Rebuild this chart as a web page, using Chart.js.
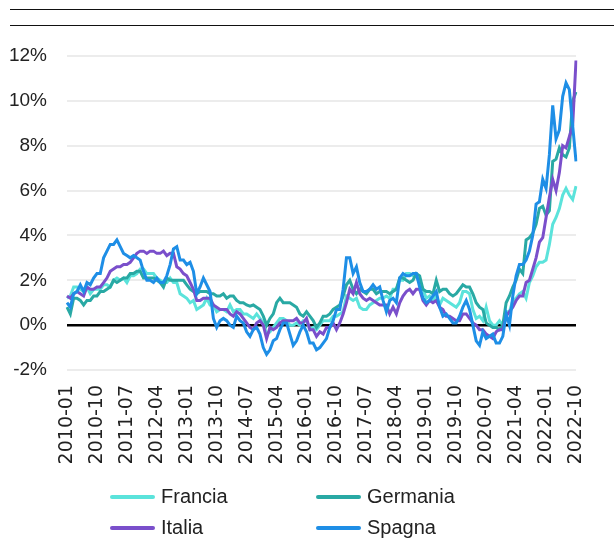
<!DOCTYPE html>
<html>
<head>
<meta charset="utf-8">
<script src="https://cdn.jsdelivr.net/npm/chart.js@4.4.0/dist/chart.umd.min.js"></script>
<style>
  html, body { margin: 0; padding: 0; background: #fff; }
  #wrap { position: relative; width: 614px; height: 538px; overflow: hidden; }
  #rules { position: absolute; left: 10px; right: 0; top: 9px; height: 15px;
           border-top: 1.5px solid #111; border-bottom: 1.5px solid #111; }
  #legend { position: absolute; left: 0; top: 484px; width: 614px;
            font-family: "Liberation Sans", Arial, sans-serif; font-size: 20px; color: #222; }
  .item { position: absolute; height: 24px; line-height: 24px; white-space: nowrap; }
  .swatch { display: inline-block; width: 45px; height: 4px; border-radius: 2px;
            vertical-align: middle; margin-right: 6px; position: relative; top: -1px; }
</style>
</head>
<body>
<div id="wrap">
  <div id="rules"></div>
  <canvas id="c" width="614" height="538"></canvas>
  <div id="legend"></div>
</div>
<script>
// monthly, 2010-01 .. 2022-10
const startYear = 2010, nMonths = 154;
const months = [];
for (let i = 0; i < nMonths; i++) {
  const y = startYear + Math.floor(i / 12), m = (i % 12) + 1;
  months.push(y + '-' + String(m).padStart(2, '0'));
}

const francia = [
  1.2, 1.3, 1.7, 1.7, 1.6, 1.5, 1.7, 1.4, 1.6, 1.6, 1.6, 1.8,
  1.8, 1.7, 2.0, 2.1, 2.0, 2.1, 1.9, 2.2, 2.2, 2.3, 2.5, 2.5,
  2.3, 2.3, 2.3, 2.1, 2.0, 1.9, 1.9, 2.1, 1.9, 1.9, 1.4, 1.3,
  1.2, 1.0, 1.1, 0.7, 0.8, 0.9, 1.2, 0.9, 0.9, 0.6, 0.7, 0.7,
  0.6, 0.9, 0.6, 0.7, 0.7, 0.5, 0.5, 0.4, 0.3, 0.5, 0.3, 0.1,
  -0.4, -0.3, -0.1, 0.1, 0.3, 0.3, 0.2, 0.0, 0.0, 0.1, 0.0, 0.2,
  0.2, -0.2, -0.1, -0.2, 0.0, 0.2, 0.2, 0.2, 0.4, 0.4, 0.5, 0.6,
  1.3, 1.2, 1.1, 1.2, 0.8, 0.7, 0.7, 0.9, 1.0, 1.1, 1.2, 1.2,
  1.3, 1.2, 1.6, 1.6, 2.0, 2.0, 2.3, 2.3, 2.2, 2.2, 1.9, 1.6,
  1.2, 1.3, 1.1, 1.3, 0.9, 1.2, 1.1, 1.0, 0.9, 0.8, 1.0, 1.5,
  1.5, 1.4, 0.7, 0.3, 0.4, 0.2, 0.8, 0.2, 0.0, 0.0, 0.2, 0.0,
  0.6, 0.6, 1.1, 1.2, 1.4, 1.5, 1.2, 1.9, 2.2, 2.6, 2.8, 2.8,
  2.9, 3.6, 4.5, 4.8, 5.2, 5.8, 6.1, 5.8, 5.6, 6.2
];
const germania = [
  0.8, 0.5, 1.2, 1.2, 1.1, 0.9, 1.1, 1.1, 1.3, 1.3, 1.5, 1.5,
  1.6, 1.7, 2.0, 1.9, 2.0, 2.1, 2.1, 2.3, 2.3, 2.4, 2.4, 2.1,
  2.1, 2.1, 2.1, 2.0, 1.9, 1.7, 2.1, 2.0, 2.0, 2.0, 2.0, 2.0,
  1.8, 1.6, 1.5, 1.4, 1.5, 1.5, 1.5, 1.4, 1.4, 1.3, 1.3, 1.4,
  1.2, 1.3, 1.3, 1.1, 1.0, 1.0, 0.9, 0.85, 0.9, 0.8, 0.7, 0.4,
  0.0, 0.3, 0.5, 1.0, 1.2, 1.0, 1.0, 1.0, 0.9, 0.8, 0.5, 0.4,
  0.6, 0.4, 0.2, -0.1, 0.1, 0.4, 0.4, 0.5, 0.7, 0.8, 0.9, 1.3,
  1.8, 2.0, 1.6, 1.4, 1.6, 1.5, 1.4, 1.6, 1.6, 1.4, 1.5, 1.5,
  1.5, 1.4, 1.5, 1.6, 2.1, 2.1, 2.0, 1.9, 2.0, 2.3, 2.2, 1.6,
  1.5, 1.5, 1.4, 2.0, 1.5, 1.6, 1.6, 1.4, 1.3, 1.4, 1.6, 1.8,
  1.7, 1.7, 1.4, 1.0, 0.8, 0.7, 0.1, 0.0, -0.1, -0.1, -0.2, 0.0,
  1.0, 1.3, 1.7, 2.0, 2.5, 2.3, 3.8, 3.9, 4.1, 4.5, 5.2, 5.3,
  4.9, 5.1, 7.3, 7.4, 7.9, 7.6, 7.5, 7.9, 10.0, 10.4
];
const italia = [
  1.3, 1.2, 1.4, 1.5, 1.4, 1.3, 1.7, 1.6, 1.6, 1.7, 1.7, 1.9,
  2.1, 2.4, 2.5, 2.6, 2.6, 2.7, 2.7, 2.8, 3.0, 3.2, 3.3, 3.3,
  3.2, 3.3, 3.3, 3.2, 3.2, 3.3, 3.1, 3.2, 3.2, 2.6, 2.5, 2.3,
  2.2, 1.9, 1.6, 1.1, 1.1, 1.2, 1.2, 1.2, 0.9, 0.8, 0.7, 0.7,
  0.7, 0.5, 0.4, 0.6, 0.5, 0.3, 0.1, -0.1, -0.2, 0.1, 0.2, 0.0,
  -0.6, -0.1, -0.2, -0.1, 0.1, 0.2, 0.2, 0.2, 0.2, 0.3, 0.1, 0.1,
  0.3, -0.2, -0.2, -0.5, -0.3, -0.4, -0.1, -0.1, 0.1, -0.2, 0.1, 0.5,
  1.0, 1.6, 1.4, 1.9, 1.4, 1.2, 1.1, 1.2, 1.1, 1.0, 0.9, 0.9,
  0.9, 0.5, 0.8, 0.5, 1.0, 1.3, 1.5, 1.6, 1.4, 1.6, 1.6, 1.1,
  0.9, 1.1, 1.0, 1.1, 0.8, 0.7, 0.4, 0.4, 0.3, 0.2, 0.2, 0.5,
  0.5, 0.3, 0.1, 0.0, -0.2, -0.2, -0.4, -0.5, -0.6, -0.3, -0.2, -0.2,
  0.4, 0.6, 0.8, 1.1, 1.3, 1.3, 1.9, 2.0, 2.5, 3.0, 3.7, 3.9,
  4.8, 5.7, 6.5, 6.0, 6.8, 8.0, 7.9, 8.4, 8.9, 11.8
];
const spagna = [
  1.0, 0.8, 1.4, 1.5, 1.8, 1.5, 1.9, 1.8, 2.1, 2.3, 2.3, 3.0,
  3.3, 3.6, 3.6, 3.8, 3.5, 3.2, 3.1, 3.0, 3.1, 3.0, 2.9, 2.4,
  2.0, 2.0, 1.9, 2.1, 1.9, 1.9, 2.2, 2.7, 3.4, 3.5, 2.9, 2.9,
  2.7, 2.8, 2.4, 1.4, 1.7, 2.1, 1.8, 1.5, 0.3, -0.1, 0.2, 0.3,
  0.2, 0.0, -0.1, 0.4, 0.2, 0.1, -0.3, -0.5, -0.2, -0.1, -0.4, -1.0,
  -1.3, -1.1, -0.7, -0.6, -0.2, 0.1, 0.1, -0.4, -0.9, -0.7, -0.3, 0.0,
  -0.3, -0.8, -0.8, -1.1, -1.0, -0.8, -0.6, -0.1, 0.2, 0.7, 0.7, 1.6,
  3.0, 3.0, 2.3, 2.6, 1.9, 1.5, 1.5, 1.6, 1.8, 1.6, 1.7, 1.1,
  0.6, 1.1, 1.2, 1.0, 2.1, 2.3, 2.2, 2.2, 2.3, 2.3, 1.7, 1.2,
  1.0, 1.1, 1.3, 1.5, 0.8, 0.4, 0.5, 0.3, 0.1, 0.1, 0.4, 0.8,
  1.1, 0.7, 0.0, -0.7, -0.9, -0.3, -0.6, -0.5, -0.4, -0.8, -0.8, -0.5,
  0.5, 0.0, 1.3, 2.2, 2.7, 2.7, 2.9, 3.3, 4.0, 5.4, 5.5, 6.5,
  6.1, 7.6, 9.8, 8.3, 8.7, 10.2, 10.8, 10.5, 8.9, 7.3
];

const seriesNames = ['Francia', 'Germania', 'Italia', 'Spagna'];
const seriesData = [francia, germania, italia, spagna];
const seriesColors = ['#5BE3DB', '#29A9A4', '#7A4FCB', '#1E8EE6'];
const yTicks = [-2, 0, 2, 4, 6, 8, 10, 12];
const labelEvery = 9;

const datasets = seriesNames.map((name, k) => ({
  label: name,
  data: seriesData[k],
  borderColor: seriesColors[k],
  backgroundColor: seriesColors[k],
  borderWidth: 3,
  pointRadius: 0,
  tension: 0,
  order: seriesNames.length - k,   // Spagna drawn on top
}));

new Chart(document.getElementById('c'), {
  type: 'line',
  data: { labels: months, datasets },
  options: {
    responsive: false,
    animation: false,
    layout: { padding: { top: 56, right: 38, bottom: 68, left: 0 } },
    plugins: { legend: { display: false }, tooltip: { enabled: false } },
    scales: {
      x: {
        grid: { display: false, drawTicks: false },
        border: { display: false },
        ticks: {
          autoSkip: false, minRotation: 90, maxRotation: 90, padding: 15,
          color: '#222',
          font: { family: '"DejaVu Sans", sans-serif', size: 19 },
          callback: (v, i) => (i % labelEvery === 0 ? months[i] : null),
        },
        afterFit: (s) => { s.height = 100; },
      },
      y: {
        min: yTicks[0], max: yTicks[yTicks.length - 1],
        afterBuildTicks: (s) => { s.ticks = yTicks.map(v => ({ value: v })); },
        grid: {
          drawTicks: false,
          color: (c) => (c.tick && c.tick.value === 0 ? '#000' : '#ececec'),
          lineWidth: (c) => (c.tick && c.tick.value === 0 ? 2.5 : 2),
        },
        border: { display: false },
        ticks: {
          padding: 20, color: '#222',
          font: { family: '"Liberation Sans", Arial, sans-serif', size: 19 },
          callback: (v) => v + '%',
        },
        afterFit: (s) => { s.width = 67; },
      },
    },
  },
});

// two-column legend
const legend = document.getElementById('legend');
const colX = [110, 316];
seriesNames.forEach((name, k) => {
  const it = document.createElement('div');
  it.className = 'item';
  it.style.left = colX[k % 2] + 'px';
  it.style.top = (Math.floor(k / 2) * 31) + 'px';
  it.innerHTML = '<span class="swatch" style="background:' + seriesColors[k] + '"></span>' + name;
  legend.appendChild(it);
});
</script>
</body>
</html>
